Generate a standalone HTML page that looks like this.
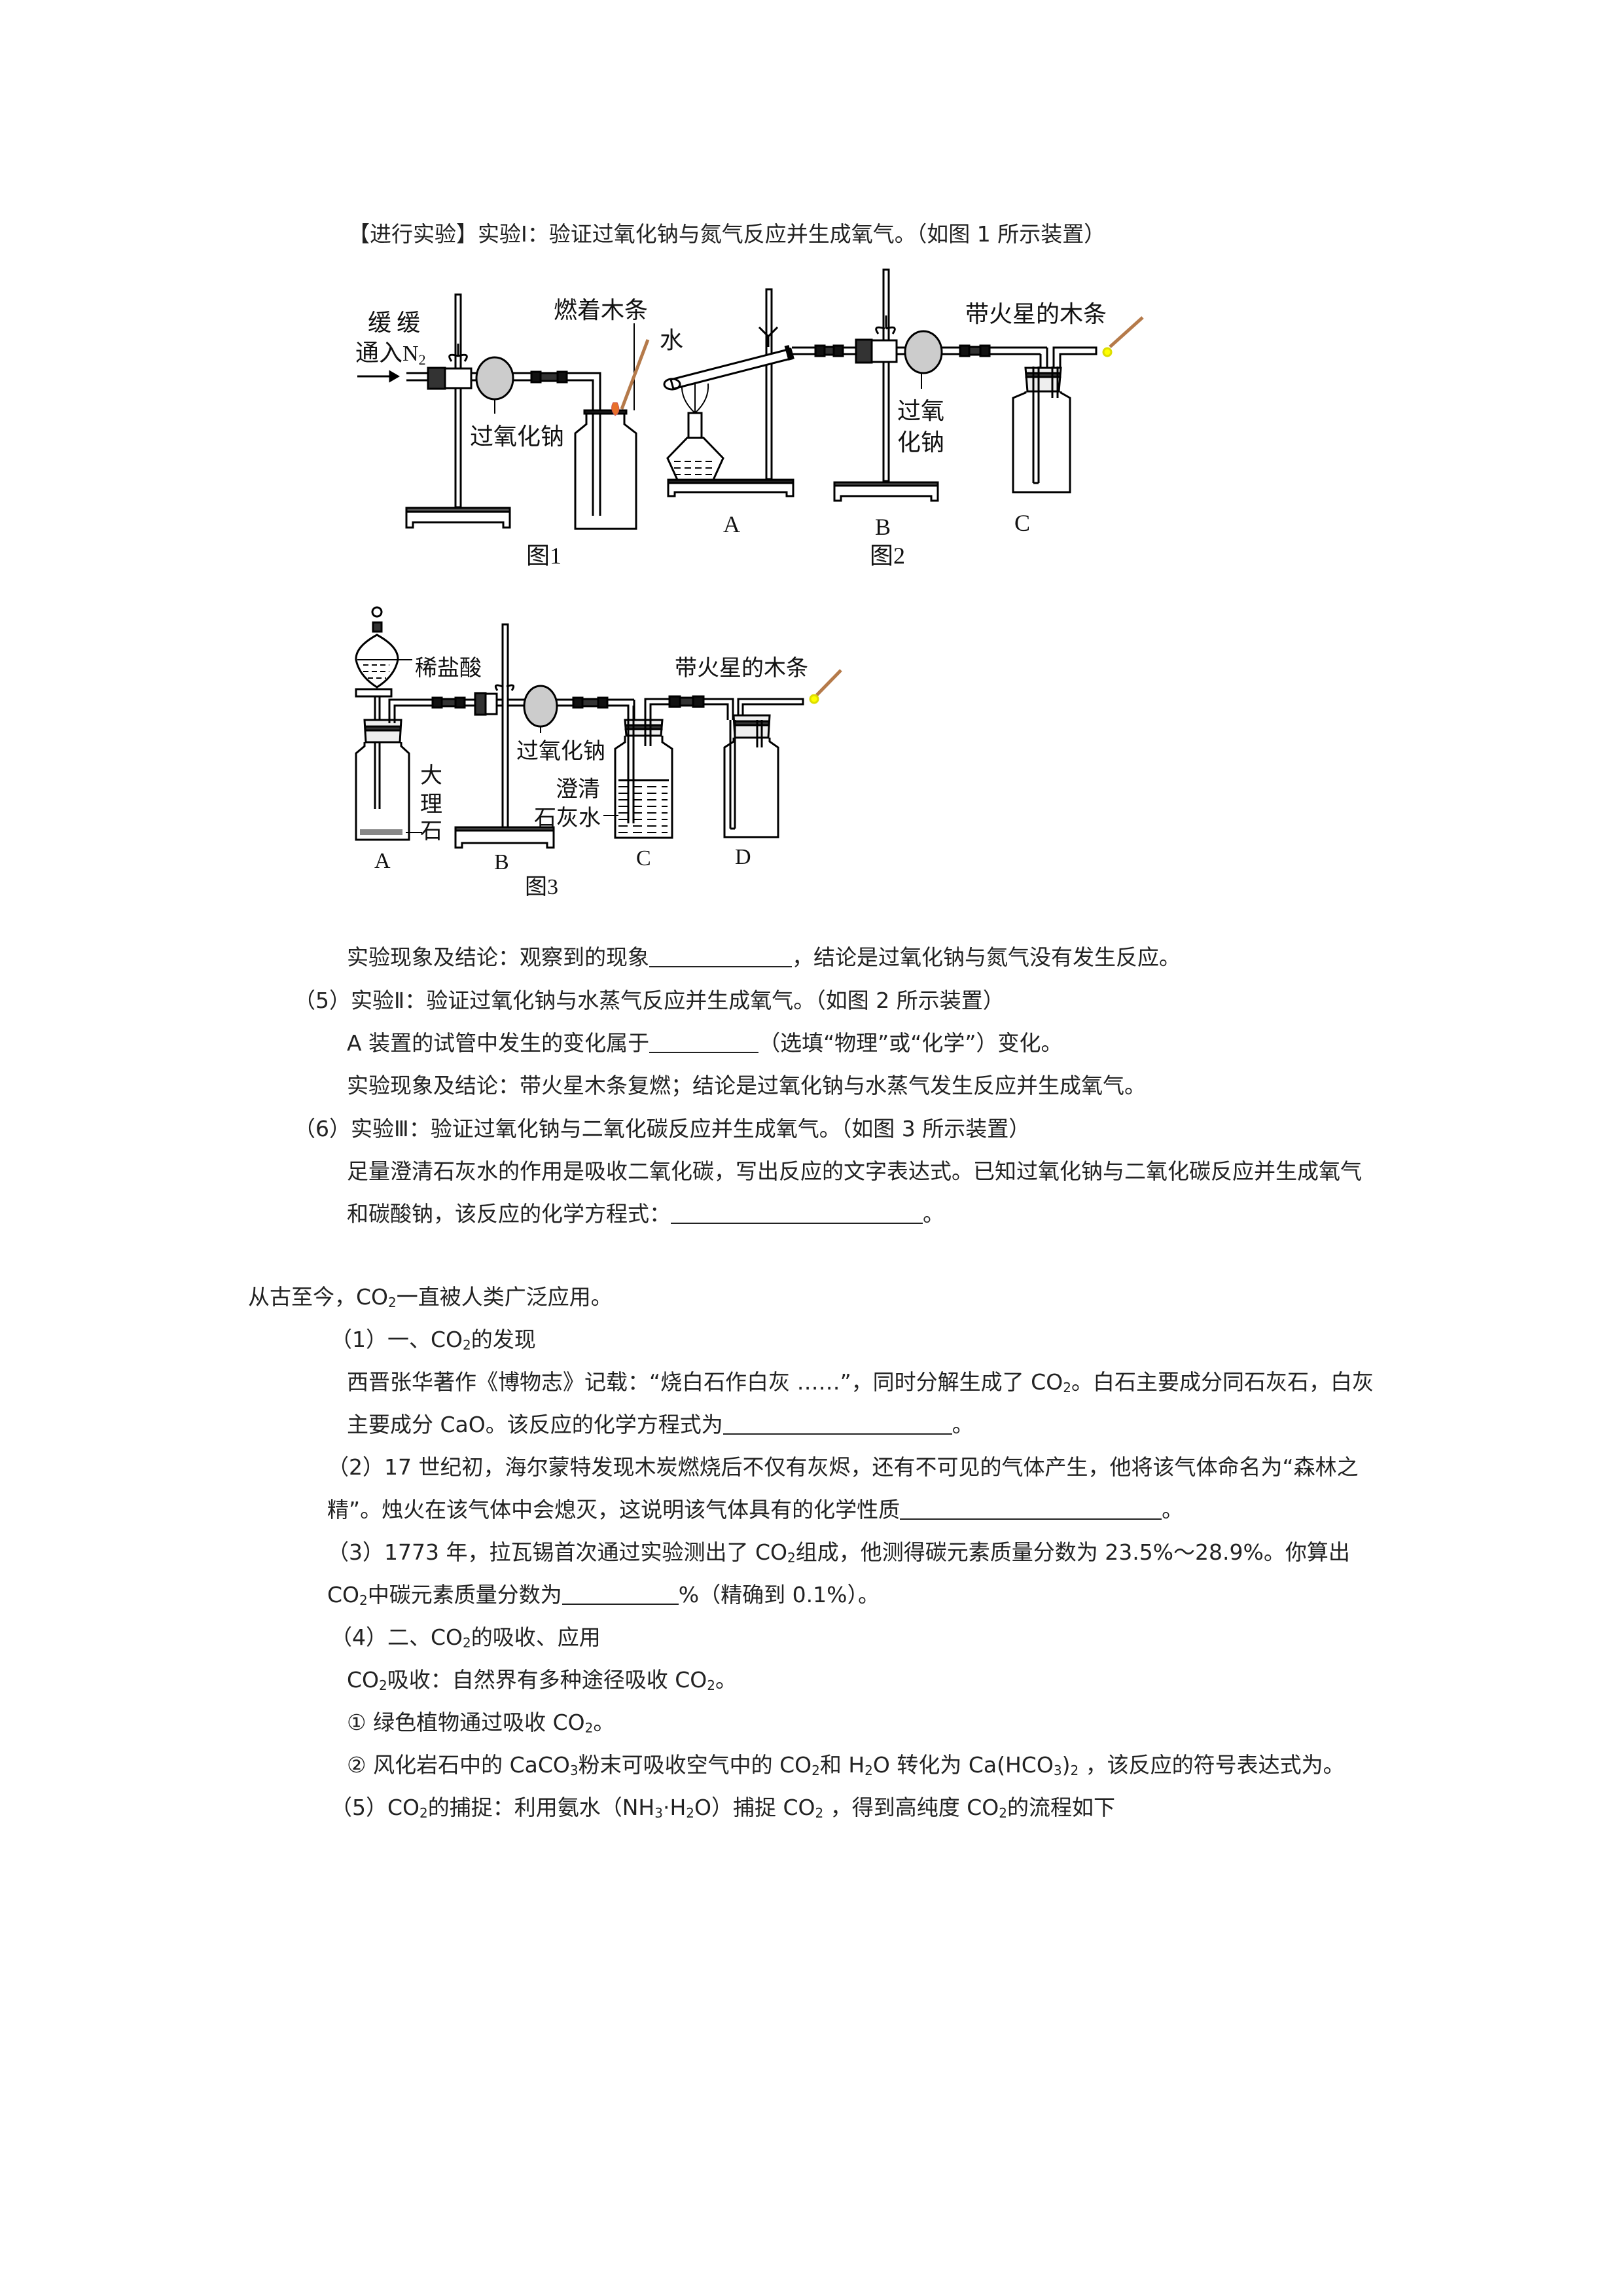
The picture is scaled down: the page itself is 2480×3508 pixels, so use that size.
<!DOCTYPE html>
<html><head><meta charset="utf-8"><style>
html,body{margin:0;padding:0;background:#fff;}
body{width:2480px;height:3508px;position:relative;overflow:hidden;font-family:"DejaVu Sans","Noto Sans CJK SC",sans-serif;color:#222;}
.l{position:absolute;font-size:33px;line-height:40px;white-space:nowrap;}
.u{display:inline-block;border-bottom:2px solid #222;height:30px;vertical-align:-4px;}
sub{font-size:20px;vertical-align:-4px;line-height:0;}
svg{position:absolute;left:0;top:0;}
svg text{font-family:"Noto Sans CJK SC",sans-serif;fill:#111;}
.s{font-family:"Liberation Serif",serif !important;}
</style></head><body>
<div class="l" style="left:532px;top:338px">【进行实验】实验Ⅰ：验证过氧化钠与氮气反应并生成氧气。（如图 1 所示装置）</div>

<svg width="2480" height="1420" viewBox="0 0 2480 1420">
<g stroke="#000" stroke-width="3" fill="none">
<rect x="696" y="450" width="8" height="325" fill="#fff"/>
<path d="M621 780 h158 v26 h-10 v-8 h-138 v8 h-10 z" fill="#fff"/>
<rect x="621" y="776" width="158" height="6" fill="#555"/>
<line x1="546" y1="575" x2="600" y2="575"/>
<path d="M596 568 l12 7 l-12 7 z" fill="#000"/>
<path d="M621 570 H917 V788 M621 581 H906 V788"/>
<rect x="654" y="562" width="26" height="32" fill="#333"/>
<rect x="680" y="563" width="40" height="30" fill="#fff"/>
<path d="M690 552 q-10 -14 10 -8 M710 552 q10 -14 -10 -8 M700 545 v-20"/>
<ellipse cx="756" cy="578" rx="28" ry="32" fill="#ccc"/>
<line x1="756" y1="610" x2="756" y2="632" stroke-width="2"/>
<rect x="812" y="568" width="14" height="16" fill="#111"/><rect x="852" y="568" width="14" height="16" fill="#111"/>
<rect x="826" y="570" width="26" height="12" fill="#333"/>
<path d="M896 629 V648 L879 662 V808 H972 V662 L954 648 V629"/>
<rect x="893" y="627" width="64" height="5" fill="#222"/>
<line x1="969" y1="494" x2="969" y2="627" stroke-width="2"/>
<line x1="990" y1="519" x2="950" y2="625" stroke="#b57a4a" stroke-width="5"/>
<path d="M937 615 q-6 10 3 20 q10 -6 3 -20 z" fill="#e8702a" stroke="#c55" stroke-width="1"/>
<rect x="1171" y="442" width="8" height="290" fill="#fff"/>
<path d="M1021 736 h191 v22 h-10 v-6 h-171 v6 h-10 z" fill="#fff"/>
<rect x="1021" y="733" width="191" height="5" fill="#222"/>
<path d="M1035 733 L1020 700 L1050 669 H1075 L1105 700 L1090 733 Z" fill="#fff"/>
<path d="M1030 705 h60 M1030 715 h60 M1030 725 h60" stroke-width="2" stroke-dasharray="10 6"/>
<rect x="1052" y="631" width="20" height="38"/>
<path d="M1062 631 q-22 -20 -20 -45 M1062 631 q22 -20 20 -45 M1062 631 v-45" stroke-width="2"/>
<path d="M1025 580 L1208 533 L1212 547 L1029 594 Z" fill="#fff"/>
<ellipse cx="1027" cy="587" rx="12" ry="8"/>
<path d="M1202 528 l6 22" stroke-width="7"/>
<path d="M1160 500 l14 14 l14 -14 M1174 514 v16"/>
<rect x="1350" y="412" width="8" height="323" fill="#fff"/>
<path d="M1275 740 h158 v25 h-10 v-7 h-138 v7 h-10 z" fill="#fff"/>
<rect x="1275" y="737" width="158" height="5" fill="#555"/>
<path d="M1210 531 H1600 M1210 541 H1590 M1600 531 V565 M1590 541 V565 M1620 565 V541 H1675 V531 H1610 V565"/>
<rect x="1308" y="519" width="24" height="35" fill="#333"/>
<rect x="1332" y="520" width="38" height="33" fill="#fff"/>
<path d="M1342 510 q-10 -14 10 -8 M1364 510 q10 -14 -10 -8 M1354 502 v-20"/>
<ellipse cx="1411" cy="538" rx="28" ry="32" fill="#ccc"/>
<line x1="1408" y1="570" x2="1408" y2="594" stroke-width="2"/>
<rect x="1246" y="528" width="14" height="16" fill="#111"/><rect x="1274" y="528" width="14" height="16" fill="#111"/><rect x="1260" y="530" width="14" height="12" fill="#333"/>
<rect x="1467" y="528" width="14" height="16" fill="#111"/><rect x="1498" y="528" width="14" height="16" fill="#111"/><rect x="1481" y="530" width="17" height="12" fill="#333"/>
<path d="M1567 598 V600 L1548 608 V752 H1635 V608 L1621 600 V598"/>
<path d="M1567 562 H1621 L1618 598 H1570 Z" fill="#eee"/>
<rect x="1568" y="570" width="52" height="6" fill="#333"/>
<path d="M1579 560 V738 M1587 560 V738 M1579 738 H1587 M1608 560 V608 M1616 560 V608"/>
<line x1="1746" y1="485" x2="1696" y2="530" stroke="#b57a4a" stroke-width="5"/>
<circle cx="1692" cy="538" r="6" fill="#ff0" stroke="#dd0"/>
<circle cx="576" cy="935" r="7"/>
<rect x="570" y="951" width="13" height="14" fill="#333"/>
<path d="M576 970 q-33 18 -32 38 q5 25 32 42 q27 -17 32 -42 q1 -20 -32 -38 z" fill="#fff"/>
<line x1="546" y1="1008" x2="630" y2="1008" stroke-width="2"/>
<path d="M555 1016 h40 M555 1026 h40 M562 1036 h28" stroke-width="2" stroke-dasharray="8 5"/>
<rect x="544" y="1053" width="54" height="11" fill="#fff"/>
<path d="M573 1064 V1236 M580 1064 V1236"/>
<path d="M557 1134 V1140 L544 1151 V1283 H625 V1151 L613 1140 V1134"/>
<path d="M557 1100 H613 L611 1134 H559 Z" fill="#eee"/>
<rect x="558" y="1110" width="54" height="6" fill="#333"/>
<rect x="550" y="1267" width="65" height="9" fill="#888" stroke="none"/>
<line x1="620" y1="1272" x2="645" y2="1272" stroke-width="2"/>
<path d="M595 1105 V1069 H969 M603 1105 V1078 H960 V1105 M969 1069 V1105"/>
<rect x="768" y="954" width="8" height="310" fill="#fff"/>
<path d="M696 1268 h150 v27 h-10 v-7 h-130 v7 h-10 z" fill="#fff"/>
<rect x="696" y="1264" width="150" height="5" fill="#555"/>
<rect x="726" y="1059" width="16" height="33" fill="#333"/>
<rect x="742" y="1060" width="17" height="31" fill="#fff"/>
<path d="M760 1055 q-8 -12 8 -6 M782 1055 q8 -12 -8 -6"/>
<ellipse cx="826" cy="1079" rx="25" ry="31" fill="#ccc"/>
<line x1="826" y1="1110" x2="826" y2="1120" stroke-width="2"/>
<rect x="661" y="1066" width="14" height="15" fill="#111"/><rect x="696" y="1066" width="14" height="15" fill="#111"/><rect x="675" y="1068" width="21" height="11" fill="#333"/>
<rect x="876" y="1066" width="14" height="15" fill="#111"/><rect x="914" y="1066" width="14" height="15" fill="#111"/><rect x="890" y="1068" width="24" height="11" fill="#333"/>
<path d="M955 1124 V1134 L940 1144 V1280 H1027 V1144 L1012 1134 V1124"/>
<path d="M955 1100 H1012 L1010 1124 H957 Z" fill="#eee"/>
<rect x="956" y="1108" width="55" height="6" fill="#333"/>
<line x1="945" y1="1192" x2="1022" y2="1192"/>
<path d="M945 1202 h75 M945 1212 h75 M945 1222 h75 M945 1232 h75 M945 1242 h75 M945 1252 h75 M945 1262 h75 M945 1272 h75" stroke-width="2" stroke-dasharray="14 8"/>
<path d="M960 1078 V1258 M968 1078 V1258 M986 1100 V1140 M994 1100 V1140"/>
<path d="M986 1100 V1068 H1120 V1100 M994 1100 V1076 H1112 V1100"/>
<path d="M1128 1100 V1068 H1227 V1076 H1135 V1100"/>
<rect x="1023" y="1064" width="16" height="16" fill="#111"/><rect x="1059" y="1064" width="16" height="16" fill="#111"/><rect x="1039" y="1066" width="20" height="12" fill="#333"/>
<path d="M1121 1127 V1133 L1107 1142 V1279 H1189 V1142 L1176 1133 V1127"/>
<path d="M1121 1093 H1176 L1174 1127 H1123 Z" fill="#eee"/>
<rect x="1122" y="1102" width="53" height="6" fill="#333"/>
<path d="M1116 1100 V1266 M1123 1100 V1266 M1116 1266 H1123 M1157 1100 V1142 M1164 1100 V1142"/>
<line x1="1285" y1="1024" x2="1248" y2="1062" stroke="#b57a4a" stroke-width="5"/>
<circle cx="1244" cy="1068" r="6" fill="#ff0" stroke="#dd0"/>
<line x1="600" y1="1008" x2="630" y2="1008" stroke-width="2"/>
<line x1="922" y1="1246" x2="945" y2="1246" stroke-width="2"/>
</g>
<g font-size="36">
<text x="562" y="505">缓 缓</text>
<text x="543" y="551">通入<tspan class="s" font-size="34">N</tspan><tspan class="s" font-size="22" dy="6">2</tspan></text>
<text x="846" y="486">燃着木条</text>
<text x="718" y="679">过氧化钠</text>
<text x="1008" y="532">水</text>
<text x="804" y="861" class="s">图1</text>
<text x="1105" y="813" class="s">A</text>
<text x="1337" y="817" class="s">B</text>
<text x="1550" y="811" class="s">C</text>
<text x="1329" y="861" class="s">图2</text>
<text x="1475" y="492">带火星的木条</text>
<text x="1371" y="640">过氧</text>
<text x="1371" y="688">化钠</text>
</g>
<g font-size="34">
<text x="634" y="1032">稀盐酸</text>
<text x="1031" y="1032">带火星的木条</text>
<text x="789" y="1159">过氧化钠</text>
<text x="849" y="1217">澄清</text>
<text x="816" y="1261">石灰水</text>
<text x="642" y="1196">大</text>
<text x="642" y="1240">理</text>
<text x="642" y="1281">石</text>
<text x="572" y="1326" class="s">A</text>
<text x="755" y="1328" class="s">B</text>
<text x="972" y="1322" class="s">C</text>
<text x="1123" y="1320" class="s">D</text>
<text x="802" y="1366" class="s">图3</text>
</g>
</svg>

<div class="l" style="left:530px;top:1443px">实验现象及结论：观察到的现象<span class="u" style="width:218px"></span>，结论是过氧化钠与氮气没有发生反应。</div>
<div class="l" style="left:449px;top:1509px">（5）实验Ⅱ：验证过氧化钠与水蒸气反应并生成氧气。（如图 2 所示装置）</div>
<div class="l" style="left:530px;top:1574px">A 装置的试管中发生的变化属于<span class="u" style="width:167px"></span>（选填“物理”或“化学”）变化。</div>
<div class="l" style="left:530px;top:1639px">实验现象及结论：带火星木条复燃；结论是过氧化钠与水蒸气发生反应并生成氧气。</div>
<div class="l" style="left:449px;top:1705px">（6）实验Ⅲ：验证过氧化钠与二氧化碳反应并生成氧气。（如图 3 所示装置）</div>
<div class="l" style="left:530px;top:1770px">足量澄清石灰水的作用是吸收二氧化碳，写出反应的文字表达式。已知过氧化钠与二氧化碳反应并生成氧气</div>
<div class="l" style="left:530px;top:1835px">和碳酸钠，该反应的化学方程式：<span class="u" style="width:385px"></span>。</div>

<div class="l" style="left:379px;top:1962px">从古至今，CO<sub>2</sub>一直被人类广泛应用。</div>
<div class="l" style="left:505px;top:2027px">（1）一、CO<sub>2</sub>的发现</div>
<div class="l" style="left:530px;top:2092px">西晋张华著作《博物志》记载：“烧白石作白灰 ……”，同时分解生成了 CO<sub>2</sub>。白石主要成分同石灰石，白灰</div>
<div class="l" style="left:530px;top:2157px">主要成分 CaO。该反应的化学方程式为<span class="u" style="width:350px"></span>。</div>
<div class="l" style="left:500px;top:2222px">（2）17 世纪初，海尔蒙特发现木炭燃烧后不仅有灰烬，还有不可见的气体产生，他将该气体命名为“森林之</div>
<div class="l" style="left:500px;top:2287px">精”。烛火在该气体中会熄灭，这说明该气体具有的化学性质<span class="u" style="width:400px"></span>。</div>
<div class="l" style="left:500px;top:2352px">（3）1773 年，拉瓦锡首次通过实验测出了 CO<sub>2</sub>组成，他测得碳元素质量分数为 23.5%～28.9%。你算出</div>
<div class="l" style="left:500px;top:2417px">CO<sub>2</sub>中碳元素质量分数为<span class="u" style="width:178px"></span>%（精确到 0.1%）。</div>
<div class="l" style="left:505px;top:2482px">（4）二、CO<sub>2</sub>的吸收、应用</div>
<div class="l" style="left:530px;top:2547px">CO<sub>2</sub>吸收：自然界有多种途径吸收 CO<sub>2</sub>。</div>
<div class="l" style="left:530px;top:2612px">① 绿色植物通过吸收 CO<sub>2</sub>。</div>
<div class="l" style="left:530px;top:2677px">② 风化岩石中的 CaCO<sub>3</sub>粉末可吸收空气中的 CO<sub>2</sub>和 H<sub>2</sub>O 转化为 Ca(HCO<sub>3</sub>)<sub>2</sub> ，该反应的符号表达式为。</div>
<div class="l" style="left:505px;top:2742px">（5）CO<sub>2</sub>的捕捉：利用氨水（NH<sub>3</sub>·H<sub>2</sub>O）捕捉 CO<sub>2</sub> ，得到高纯度 CO<sub>2</sub>的流程如下</div>
</body></html>
